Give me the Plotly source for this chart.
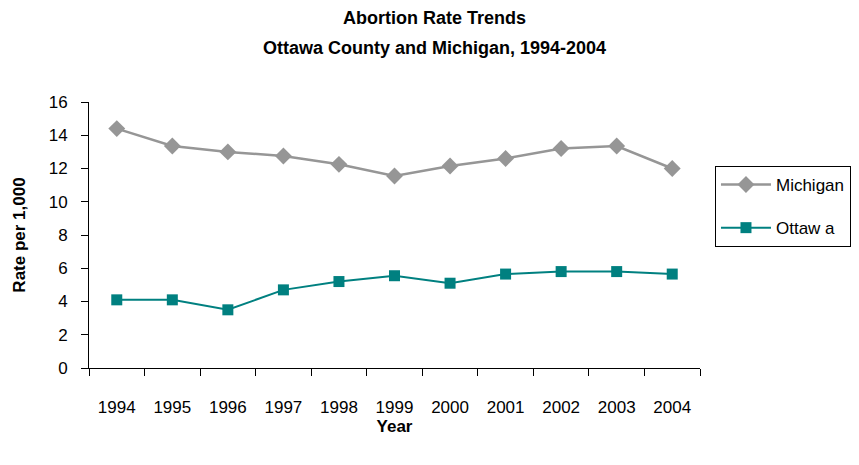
import plotly.graph_objects as go

years = ["1994", "1995", "1996", "1997", "1998", "1999", "2000", "2001", "2002", "2003", "2004"]
michigan = [14.4, 13.35, 13.0, 12.75, 12.25, 11.55, 12.15, 12.6, 13.2, 13.35, 12.0]
ottawa = [4.1, 4.1, 3.5, 4.7, 5.2, 5.55, 5.1, 5.65, 5.8, 5.8, 5.65]
y_ticks = [0, 2, 4, 6, 8, 10, 12, 14, 16]
title_lines = ["Abortion Rate Trends", "Ottawa County and Michigan, 1994-2004"]

font = "Liberation Sans, Arial, sans-serif"

# page body has an 8px margin; plot area in page pixels: x 89..701, y 102..368
PX0, PX1, PY0, PY1 = 89, 701, 102, 368

fig = go.Figure()
fig.add_trace(go.Scatter(
    x=years, y=michigan, name="Michigan", mode="lines+markers",
    line=dict(color="#969696", width=2.5),
    marker=dict(symbol="diamond", size=13, color="#969696"),
    legendgroup="a",
))
fig.add_trace(go.Scatter(
    x=years, y=ottawa, name="Ottaw a", mode="lines+markers",
    line=dict(color="#008080", width=2),
    marker=dict(symbol="square", size=11, color="#008080"),
    legendgroup="b",
))

for txt, ypx in zip(title_lines, [18, 48]):
    fig.add_annotation(
        text=f"<b>{txt}</b>", xref="paper", yref="paper",
        x=(435 - PX0) / (PX1 - PX0), y=1 + (PY0 - ypx) / (PY1 - PY0),
        xanchor="center", yanchor="middle", showarrow=False,
        font=dict(size=18, family=font, color="#000000"),
    )

fig.update_layout(
    width=855, height=457,
    paper_bgcolor="white", plot_bgcolor="white",
    margin=dict(l=81, r=158, t=94, b=97),
    font=dict(family=font, size=17, color="#000000"),
    showlegend=True,
    legend=dict(
        x=(716 - PX0) / (PX1 - PX0), xanchor="left",
        y=(PY1 - 166) / (PY1 - PY0), yanchor="top",
        bordercolor="#000000", borderwidth=1,
        font=dict(size=17, family=font),
        tracegroupgap=18,
        itemwidth=50,
    ),
    xaxis=dict(
        type="category", range=[-0.5, 10.5], automargin=False,
        showline=True, linecolor="#000000", linewidth=1,
        ticks="outside", tickson="boundaries", ticklen=7, tickcolor="#000000",
        showgrid=False, zeroline=False,
        tickfont=dict(size=17), ticklabelstandoff=24,
        title=dict(text="<b>Year</b>", font=dict(size=17), standoff=2),
    ),
    yaxis=dict(
        range=[0, 16], tickvals=y_ticks, automargin=False,
        showline=True, linecolor="#000000", linewidth=1,
        ticks="outside", ticklen=7, tickcolor="#000000",
        showgrid=False, zeroline=False,
        tickfont=dict(size=17), ticklabelstandoff=10,
        title=dict(text="<b>Rate per 1,000</b>", font=dict(size=17), standoff=18),
    ),
)

fig.write_html("out.html")
